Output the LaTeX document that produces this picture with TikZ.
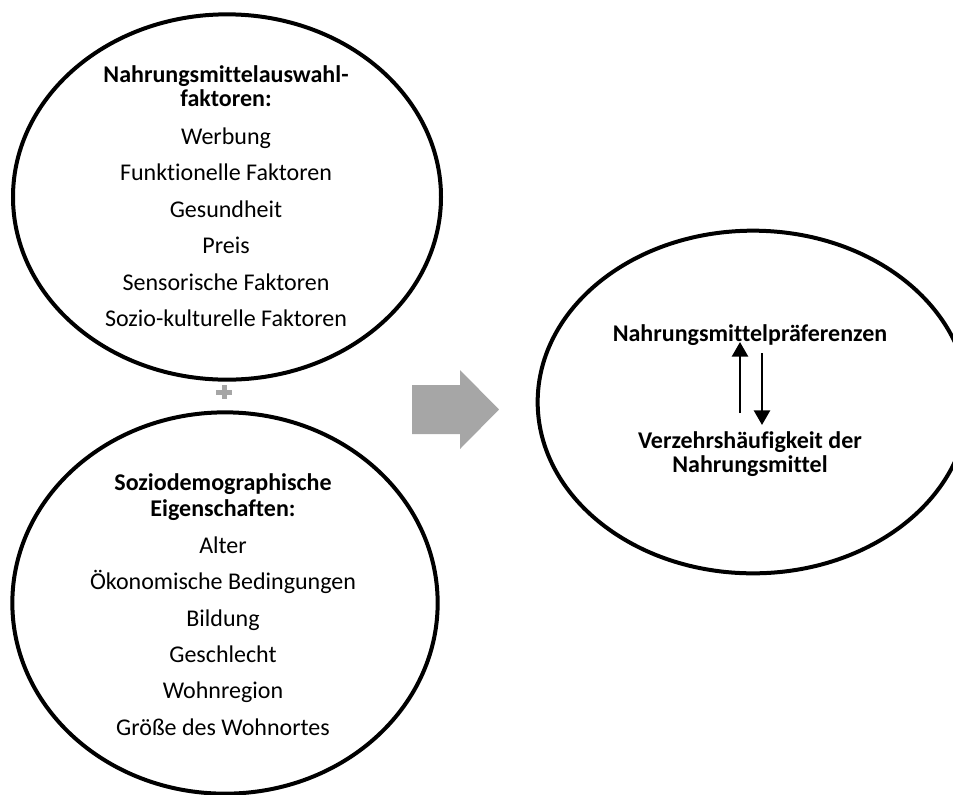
\documentclass[tikz,border=0pt]{standalone}
\usepackage{fontspec}
\setmainfont{Carlito}[Ligatures=NoCommon]
\usetikzlibrary{arrows.meta,shapes.geometric}

\begin{document}
\begin{tikzpicture}[x=0.75pt,y=0.75pt,yscale=-1,xscale=1]
\tikzset{oval/.style={ellipse,draw,line width=3pt,inner sep=0pt},
  txt/.style={inner sep=0pt,anchor=base,font=\fontsize{18}{21}\selectfont},
  btxt/.style={txt,font=\fontsize{18}{21}\selectfont\bfseries},
  link/.style={line width=2pt,-{Triangle[length=11pt,width=12pt]}}}
\definecolor{arrowgray}{RGB}{166,166,166}
\clip (0,0) rectangle (953,794);

%Shape: Ellipse [id:top]
\node [oval,minimum width=321pt,minimum height=274pt] (auswahl) at (227,197) {};
%Shape: Ellipse [id:bottom]
\node [oval,minimum width=319pt,minimum height=286pt] (sozio) at (225,603) {};
%Shape: Ellipse [id:right]
\node [oval,minimum width=323pt,minimum height=257pt] (praef) at (753,402) {};

%Shape: Plus
\fill [arrowgray] (216,389.5) rectangle (232,394.5) ;
\fill [arrowgray] (221.5,385) rectangle (226.5,399) ;
%Shape: Right Arrow
\fill [arrowgray] (412,385) -- (460,385) -- (460,370) -- (499,409.5) -- (460,449) -- (460,434) -- (412,434) -- cycle ;

% Text Node
\draw (226,82) node [btxt] (h1) {Nahrungsmittelauswahl-};
\draw (226,106) node [btxt] (h2) {faktoren:};
\draw (226,144) node [txt] (f1) {Werbung};
\draw (226,180.5) node [txt] (f2) {Funktionelle Faktoren};
\draw (226,217) node [txt] (f3) {Gesundheit};
\draw (226,253.5) node [txt] (f4) {Preis};
\draw (226,290) node [txt] (f5) {Sensorische Faktoren};
\draw (226,326.5) node [txt] (f6) {Sozio-kulturelle Faktoren};
% Text Node
\draw (223,490) node [btxt] (s1) {Soziodemographische};
\draw (223,516) node [btxt] (s2) {Eigenschaften:};
\draw (223,553) node [txt] (e1) {Alter};
\draw (223,589) node [txt] (e2) {Ökonomische Bedingungen};
\draw (223,626) node [txt] (e3) {Bildung};
\draw (223,662) node [txt] (e4) {Geschlecht};
\draw (223,698) node [txt] (e5) {Wohnregion};
\draw (223,735) node [txt] (e6) {Größe des Wohnortes};
% Text Node
\draw (750,341) node [btxt] (pref) {Nahrungsmittelpräferenzen};
\draw (750,448) node [btxt] (freq) {Verzehrshäufigkeit der};
\draw (750,472) node [btxt] (freq2) {Nahrungsmittel};

%Straight Lines
\coordinate (upS) at (740,413);
\coordinate (upE) at (740,342);
\coordinate (dnS) at (762,353);
\coordinate (dnE) at (762,425);
\draw [link] (upS) -- (upE) ;
\draw [link] (dnS) -- (dnE) ;
\end{tikzpicture}
\end{document}
